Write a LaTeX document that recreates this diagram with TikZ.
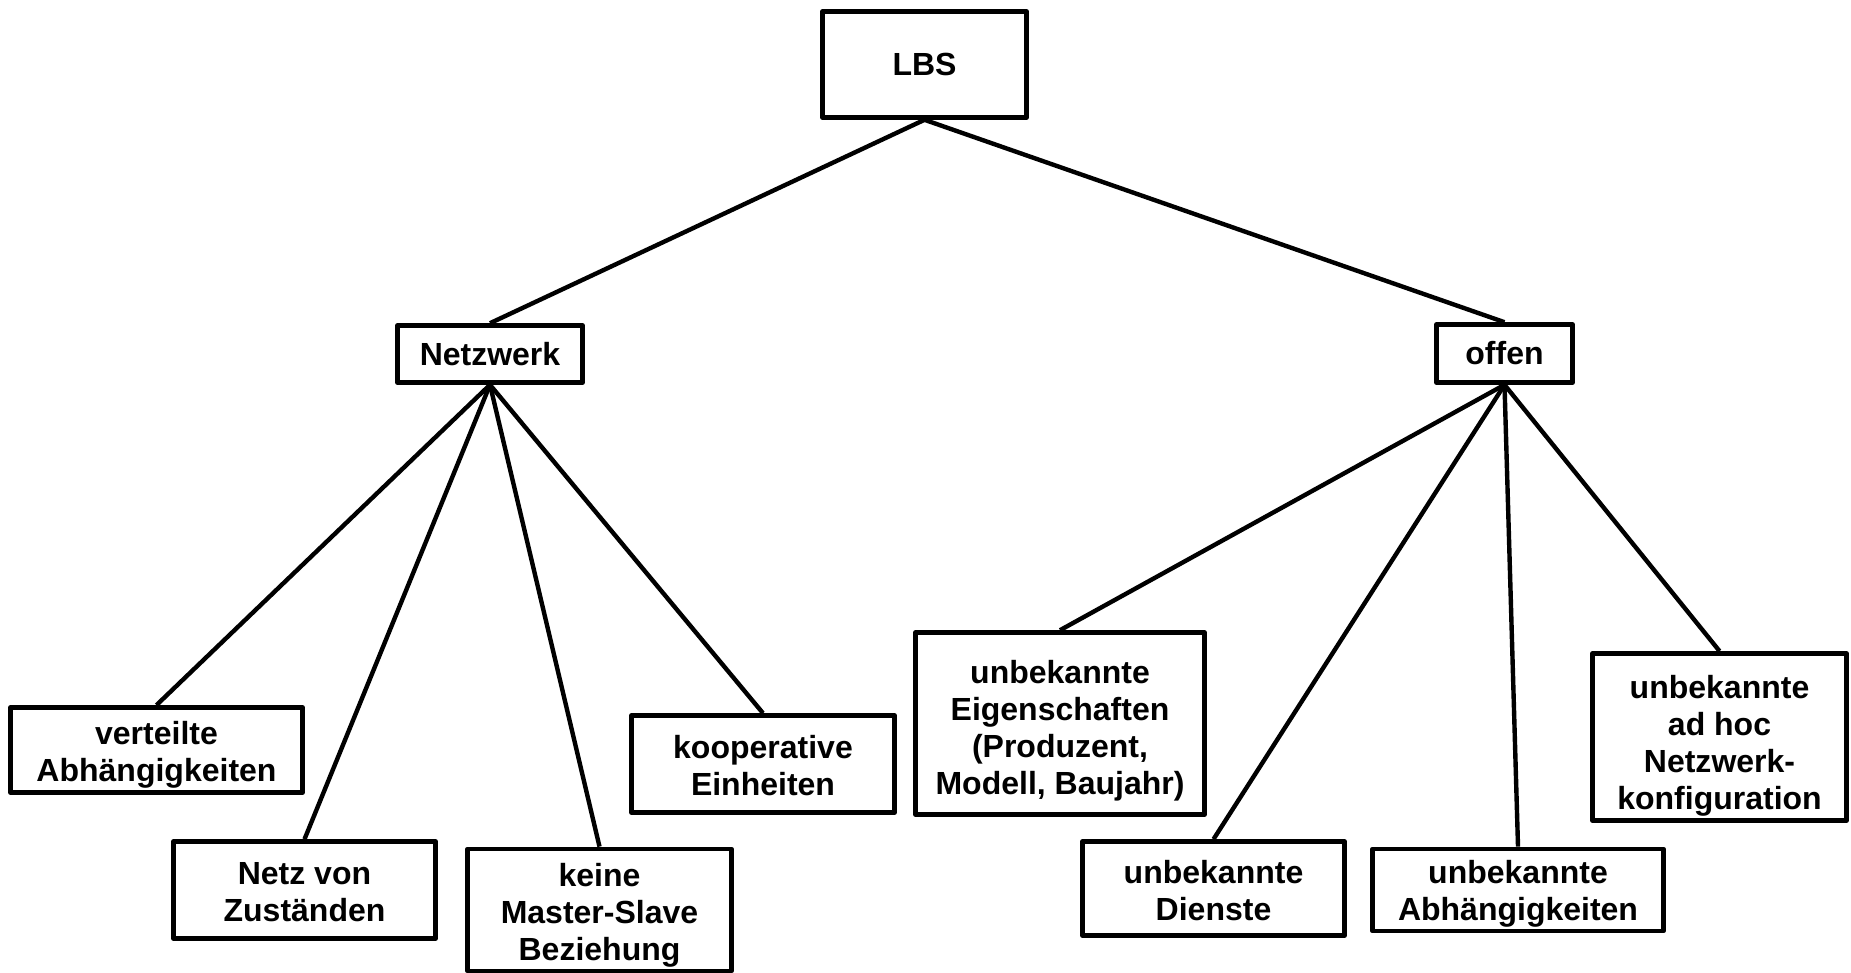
\documentclass[tikz,border=0pt]{standalone}
\usepackage{fontspec}
\setmainfont{Liberation Sans}
% centred stack of lines; the optional length adds room on top so the
% stack sits a little lower in its box
\newcommand{\stack}[2][5.6pt]{%
  \raisebox{0pt}[\dimexpr\height+#1\relax][\depth]{%
    \begin{tabular}{@{}c@{}}#2\end{tabular}}}
\begin{document}
\begin{tikzpicture}[x=0.5pt,y=-0.5pt,
  box/.style={draw, line width=2.3pt, line join=round,
    font=\bfseries\fontsize{16}{18.5}\selectfont, inner sep=0pt},
  link/.style={line width=2.2pt}]
\useasboundingbox (0,0) rectangle (1851,973);

% root
\node[box, minimum width=102pt, minimum height=53pt] (lbs) at (924.5,64.5) {LBS};

% second level
\node[box, minimum width=92.5pt, minimum height=28.5pt] (netz) at (490,354) {Netzwerk};
\node[box, minimum width=68pt, minimum height=29pt] (offen) at (1504.5,353.5) {offen};

% children of Netzwerk
\node[box, minimum width=146pt, minimum height=42.5pt] (vert) at (156.5,750) {\stack{verteilte\\Abhängigkeiten}};
\node[box, minimum width=131pt, minimum height=48.5pt] (zust) at (304.5,890) {\stack{Netz von\\Zuständen}};
\node[box, minimum width=132pt, minimum height=58.5pt] (keine) at (599.5,910) {\stack{keine\\Master-Slave\\Beziehung}};
\node[box, minimum width=131.5pt, minimum height=48.5pt] (koop) at (763,764) {\stack{kooperative\\Einheiten}};

% children of offen
\node[box, minimum width=144.5pt, minimum height=91pt] (eig) at (1060,723.5) {\stack[8.1pt]{unbekannte\\Eigenschaften\\(Produzent,\\Modell, Baujahr)}};
\node[box, minimum width=131pt, minimum height=47pt] (dien) at (1213.5,888.5) {\stack[6.1pt]{unbekannte\\Dienste}};
\node[box, minimum width=145.5pt, minimum height=40.5pt] (abh) at (1518,890) {\stack[4.1pt]{unbekannte\\Abhängigkeiten}};
\node[box, minimum width=127pt, minimum height=72.5pt] (adhoc) at (1719.5,737) {\stack[9.6pt]{unbekannte\\ad hoc\\Netzwerk-\\konfiguration}};

% connectors
\draw[link] (lbs.south) -- (netz.north);
\draw[link] (lbs.south) -- (offen.north);
\foreach \c in {vert,zust,keine,koop} \draw[link] (netz.south) -- (\c.north);
\foreach \c in {eig,dien,abh,adhoc} \draw[link] (offen.south) -- (\c.north);
\end{tikzpicture}
\end{document}
